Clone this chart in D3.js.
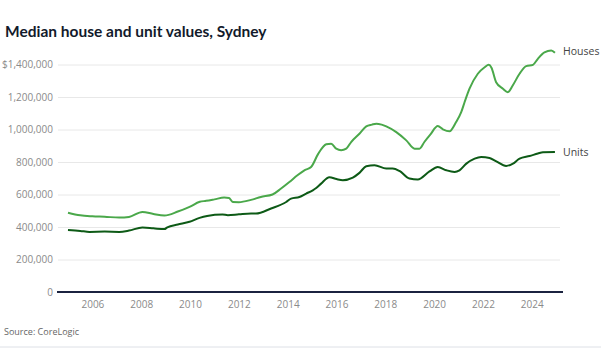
<!DOCTYPE html>
<html>
<head>
<meta charset="utf-8">
<script src="https://cdn.jsdelivr.net/npm/d3@7"></script>
<style>
  html, body { margin: 0; padding: 0; background: #fff; }
  svg { display: block; }
</style>
</head>
<body>
<svg id="chart" width="601" height="356"></svg>
<script>
// ---- data ----
const houseYears = [2005.0,2005.5,2006.0,2006.5,2007.1,2007.5,2008.05,2008.5,2008.95,2009.5,2009.98,2010.4,2010.66,2011.0,2011.4,2011.6,2011.75,2012.0,2012.5,2012.9,2013.38,2013.73,2014.07,2014.4,2014.7,2014.96,2015.25,2015.58,2015.78,2015.99,2016.19,2016.4,2016.6,2016.94,2017.22,2017.45,2017.63,2017.85,2018.04,2018.45,2018.86,2019.2,2019.4,2019.6,2019.85,2020.15,2020.36,2020.63,2020.9,2021.11,2021.25,2021.45,2021.79,2022.07,2022.24,2022.35,2022.54,2022.82,2023.02,2023.22,2023.5,2023.77,2024.05,2024.25,2024.52,2024.8,2024.95];
const houseValues = [488,472,466,463,458,462,493,480,471,495,524,555,561,570,581,578,554,553,567,585,600,637,677,718,750,769,850,909,913,882,872,882,923,974,1019,1030,1036,1030,1019,984,933,882,882,923,970,1021,1001,989,1046,1107,1169,1251,1343,1383,1398,1380,1291,1251,1230,1271,1343,1390,1398,1435,1475,1486,1472];

const unitYears = [2005.0,2005.5,2005.88,2006.5,2007.1,2007.5,2008.05,2008.5,2008.95,2009.07,2009.5,2009.98,2010.39,2010.7,2011.33,2011.55,2012.0,2012.5,2012.7,2013.32,2013.94,2014.14,2014.48,2014.76,2015.03,2015.17,2015.37,2015.71,2016.0,2016.26,2016.67,2016.94,2017.22,2017.56,2018.04,2018.3,2018.58,2018.99,2019.33,2019.81,2020.15,2020.5,2020.84,2021.04,2021.32,2021.66,2021.93,2022.27,2022.55,2022.95,2023.23,2023.5,2023.91,2024.25,2024.46,2024.95];
const unitValues = [381,376,370,372,370,378,397,392,387,398,415,432,456,468,477,473,478,483,483,514,554,575,585,606,626,640,667,706,695,688,704,733,774,780,760,760,745,698,692,742,769,749,739,749,790,821,831,825,804,776,790,821,837,852,860,861];

const seriesNames = ["Houses", "Units"];
const yTicks = [0, 200000, 400000, 600000, 800000, 1000000, 1200000, 1400000];
const xTicks = [2006, 2008, 2010, 2012, 2014, 2016, 2018, 2020, 2022, 2024];
const titleText = "Median house and unit values, Sydney";
const sourceText = "Source: CoreLogic";

// ---- layout ----
const svg = d3.select("#chart");
const x = d3.scaleLinear().domain([2004.55, 2025.28]).range([57, 563]);
const y = d3.scaleLinear().domain([0, 1400000]).range([292, 64.5]);

const houses = houseYears.map((t, i) => ({t, v: houseValues[i] * 1000}));
const units = unitYears.map((t, i) => ({t, v: unitValues[i] * 1000}));

// title
svg.append("text")
  .attr("x", 5).attr("y", 37)
  .attr("font-family", "Lato, sans-serif")
  .attr("font-weight", "bold")
  .attr("font-size", 15.5)
  .attr("fill", "#121a2b")
  .text(titleText);

// y axis with gridlines
const yAxis = d3.axisLeft(y)
  .tickValues(yTicks)
  .tickSize(-(560 - 58))
  .tickPadding(5)
  .tickFormat(d => d === 1400000 ? "$" + d3.format(",")(d) : d3.format(",")(d));

const gy = svg.append("g").attr("transform", "translate(58,0)").call(yAxis);
gy.select(".domain").remove();
gy.selectAll(".tick line").attr("stroke", "#e8e8e8").attr("stroke-width", 1);
gy.selectAll(".tick text")
  .attr("font-family", "'Open Sans', sans-serif")
  .attr("font-size", 10)
  .attr("fill", "#8a8a8a");

// x axis labels
const xAxis = d3.axisBottom(x)
  .tickValues(xTicks)
  .tickSize(0)
  .tickPadding(9)
  .tickFormat(d3.format("d"));
const gx = svg.append("g").attr("transform", "translate(0,292)").call(xAxis);
gx.select(".domain").remove();
gx.selectAll(".tick text")
  .attr("font-family", "'Open Sans', sans-serif")
  .attr("font-size", 10)
  .attr("fill", "#8a8a8a");

// baseline
svg.append("line")
  .attr("x1", 57).attr("x2", 563)
  .attr("y1", y(0)).attr("y2", y(0))
  .attr("stroke", "#1b2340").attr("stroke-width", 2);

// lines
const line = d3.line().x(d => x(d.t)).y(d => y(d.v)).curve(d3.curveMonotoneX);
svg.append("path").datum(houses)
  .attr("d", line).attr("fill", "none")
  .attr("stroke", "#4aa84a").attr("stroke-width", 2);
svg.append("path").datum(units)
  .attr("d", line).attr("fill", "none")
  .attr("stroke", "#0d5a16").attr("stroke-width", 2);

// series labels
const lastH = houses[houses.length - 1], lastU = units[units.length - 1];
svg.append("text").attr("x", 563).attr("y", y(lastH.v)).attr("dy", "0.2em")
  .attr("font-family", "'Open Sans', sans-serif").attr("font-size", 10.5)
  .attr("fill", "#444").text(seriesNames[0]);
svg.append("text").attr("x", 563).attr("y", y(lastU.v)).attr("dy", "0.35em")
  .attr("font-family", "'Open Sans', sans-serif").attr("font-size", 10.5)
  .attr("fill", "#444").text(seriesNames[1]);

// source
svg.append("text").attr("x", 4).attr("y", 335)
  .attr("font-family", "'Open Sans', sans-serif").attr("font-size", 9)
  .attr("fill", "#666").text(sourceText);

// bottom rule
svg.append("line").attr("x1", 0).attr("x2", 601)
  .attr("y1", 347).attr("y2", 347)
  .attr("stroke", "#dde0e6").attr("stroke-width", 1);
</script>
</body>
</html>
